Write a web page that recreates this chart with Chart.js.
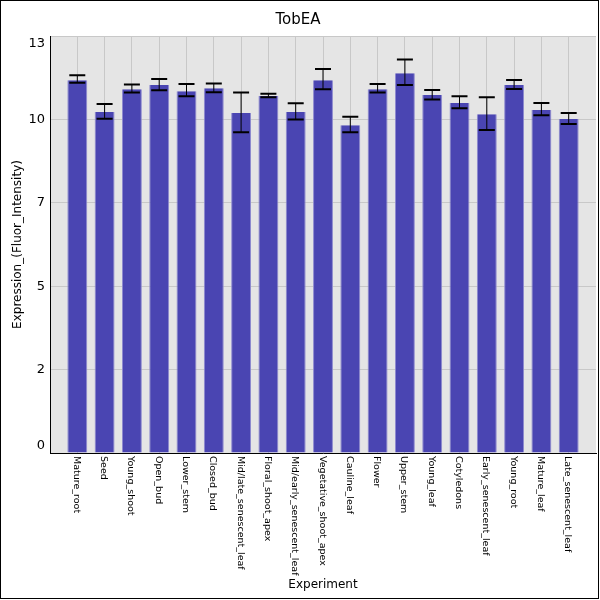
<!DOCTYPE html>
<html>
<head>
<meta charset="utf-8">
<script src="https://cdn.jsdelivr.net/npm/chart.js@4/dist/chart.umd.min.js"></script>
<style>
    body { margin: 0; background: #fff; }
    canvas { display: block; }
</style>
</head>
<body>
<canvas id="tobea-chart" width="600" height="600"></canvas>
<script>
const experiments = [
    "Mature_root", "Seed", "Young_shoot", "Open_bud", "Lower_stem", "Closed_bud",
    "Mid/late_senescent_leaf", "Floral_shoot_apex", "Mid/early_senescent_leaf",
    "Vegetative_shoot_apex", "Cauline_leaf", "Flower", "Upper_stem", "Young_leaf",
    "Cotyledons", "Early_senescent_leaf", "Young_root", "Mature_leaf", "Late_senescent_leaf"
];
const expression = [
    11.62, 10.63, 11.34, 11.47, 11.28, 11.37, 10.60, 11.13, 10.63, 11.62,
    10.22, 11.34, 11.84, 11.16, 10.91, 10.56, 11.47, 10.69, 10.41
];
const errorLow = [
    11.54, 10.42, 11.24, 11.31, 11.12, 11.25, 10.00, 11.09, 10.40, 11.34,
    10.00, 11.24, 11.47, 11.02, 10.75, 10.07, 11.35, 10.53, 10.26
];
const errorHigh = [
    11.78, 10.88, 11.49, 11.66, 11.50, 11.52, 11.24, 11.20, 10.90, 11.97,
    10.48, 11.50, 12.27, 11.32, 11.12, 11.09, 11.63, 10.91, 10.60
];
const yTickValues = [0, 2.6, 5.2, 7.8, 10.4, 13];
const yTickLabels = ["0", "2", "5", "7", "10", "13"];

const FONT = '"DejaVu Sans", "Liberation Sans", sans-serif';

// grey panel behind the bars plus white page
const plotBackground = {
    id: "plotBackground",
    beforeDraw(chart) {
        const { ctx, chartArea: a } = chart;
        ctx.save();
        ctx.fillStyle = "#fff";
        ctx.fillRect(0, 0, chart.width, chart.height);
        ctx.fillStyle = "#e5e5e5";
        ctx.fillRect(a.left, a.top, a.right - a.left, a.bottom - a.top);
        ctx.restore();
    }
};

const errorBars = {
    id: "errorBars",
    afterDatasetsDraw(chart) {
        const { ctx, scales: { x, y } } = chart;
        ctx.save();
        ctx.strokeStyle = "#000";
        expression.forEach((v, i) => {
            const px = x.getPixelForValue(i);
            const lo = y.getPixelForValue(errorLow[i]);
            const hi = y.getPixelForValue(errorHigh[i]);
            ctx.lineWidth = 1;
            ctx.beginPath();
            ctx.moveTo(px, lo);
            ctx.lineTo(px, hi);
            ctx.stroke();
            ctx.lineWidth = 2;
            ctx.beginPath();
            ctx.moveTo(px - 8, lo);
            ctx.lineTo(px + 8, lo);
            ctx.moveTo(px - 8, hi);
            ctx.lineTo(px + 8, hi);
            ctx.stroke();
        });
        ctx.restore();
    }
};

// category names read top to bottom under each bar
const experimentLabels = {
    id: "experimentLabels",
    afterDraw(chart) {
        const { ctx, scales: { x } } = chart;
        ctx.save();
        ctx.font = "9.5px " + FONT;
        ctx.fillStyle = "#000";
        ctx.textAlign = "left";
        ctx.textBaseline = "middle";
        experiments.forEach((name, i) => {
            ctx.save();
            ctx.translate(x.getPixelForValue(i) - 1, x.top + 3);
            ctx.rotate(Math.PI / 2);
            ctx.fillText(name, 0, 0);
            ctx.restore();
        });
        ctx.strokeStyle = "#000";
        ctx.lineWidth = 1;
        ctx.strokeRect(0.5, 0.5, 598, 598);
        ctx.restore();
    }
};

new Chart(document.querySelector("#tobea-chart"), {
    type: "bar",
    data: {
        datasets: [{
            label: "TobEA",
            data: expression.map((v, i) => ({ x: i, y: v })),
            backgroundColor: "#4a45b2",
            borderColor: "#8d89cf",
            borderWidth: { left: 1, right: 1, top: 0, bottom: 0 },
            borderSkipped: false,
            barPercentage: 0.73,
            categoryPercentage: 1
        }]
    },
    options: {
        responsive: false,
        animation: false,
        devicePixelRatio: 1,
        layout: { padding: { left: 0, right: 4, top: 0, bottom: 0 } },
        plugins: {
            legend: { display: false },
            tooltip: { enabled: false },
            title: {
                display: true,
                text: "TobEA",
                color: "#000",
                font: { family: FONT, size: 15, weight: "normal" },
                padding: { top: 11, bottom: 7 }
            }
        },
        scales: {
            x: {
                type: "linear",
                min: -1,
                max: 19,
                offset: false,
                afterBuildTicks: scale => {
                    scale.ticks = experiments.map((_, i) => ({ value: i }));
                },
                afterFit: scale => { scale.height = 147; },
                ticks: { display: false },
                grid: { color: "#c8c8c8", drawTicks: false, offset: false },
                border: { color: "#000", width: 1 },
                title: {
                    display: true,
                    text: "Experiment",
                    color: "#000",
                    font: { family: FONT, size: 12 },
                    padding: { top: 0, bottom: 8 }
                }
            },
            y: {
                min: 0,
                max: 13,
                afterBuildTicks: scale => {
                    scale.ticks = yTickValues.map(v => ({ value: v }));
                },
                afterFit: scale => { scale.width = 50; },
                ticks: {
                    color: "#000",
                    padding: 5,
                    font: { family: FONT, size: 13 },
                    callback: (value, index) => {
                        const label = yTickLabels[index];
                        if (index === 0) return [label, ""];
                        if (index === yTickLabels.length - 1) return ["", label];
                        return label;
                    }
                },
                grid: { color: "#c8c8c8", drawTicks: false },
                border: { color: "#000", width: 1 },
                title: {
                    display: true,
                    text: "Expression_(Fluor_Intensity)",
                    color: "#000",
                    font: { family: FONT, size: 12 },
                    padding: { top: 11, bottom: 0 }
                }
            }
        }
    },
    plugins: [plotBackground, errorBars, experimentLabels]
});
</script>
</body>
</html>
